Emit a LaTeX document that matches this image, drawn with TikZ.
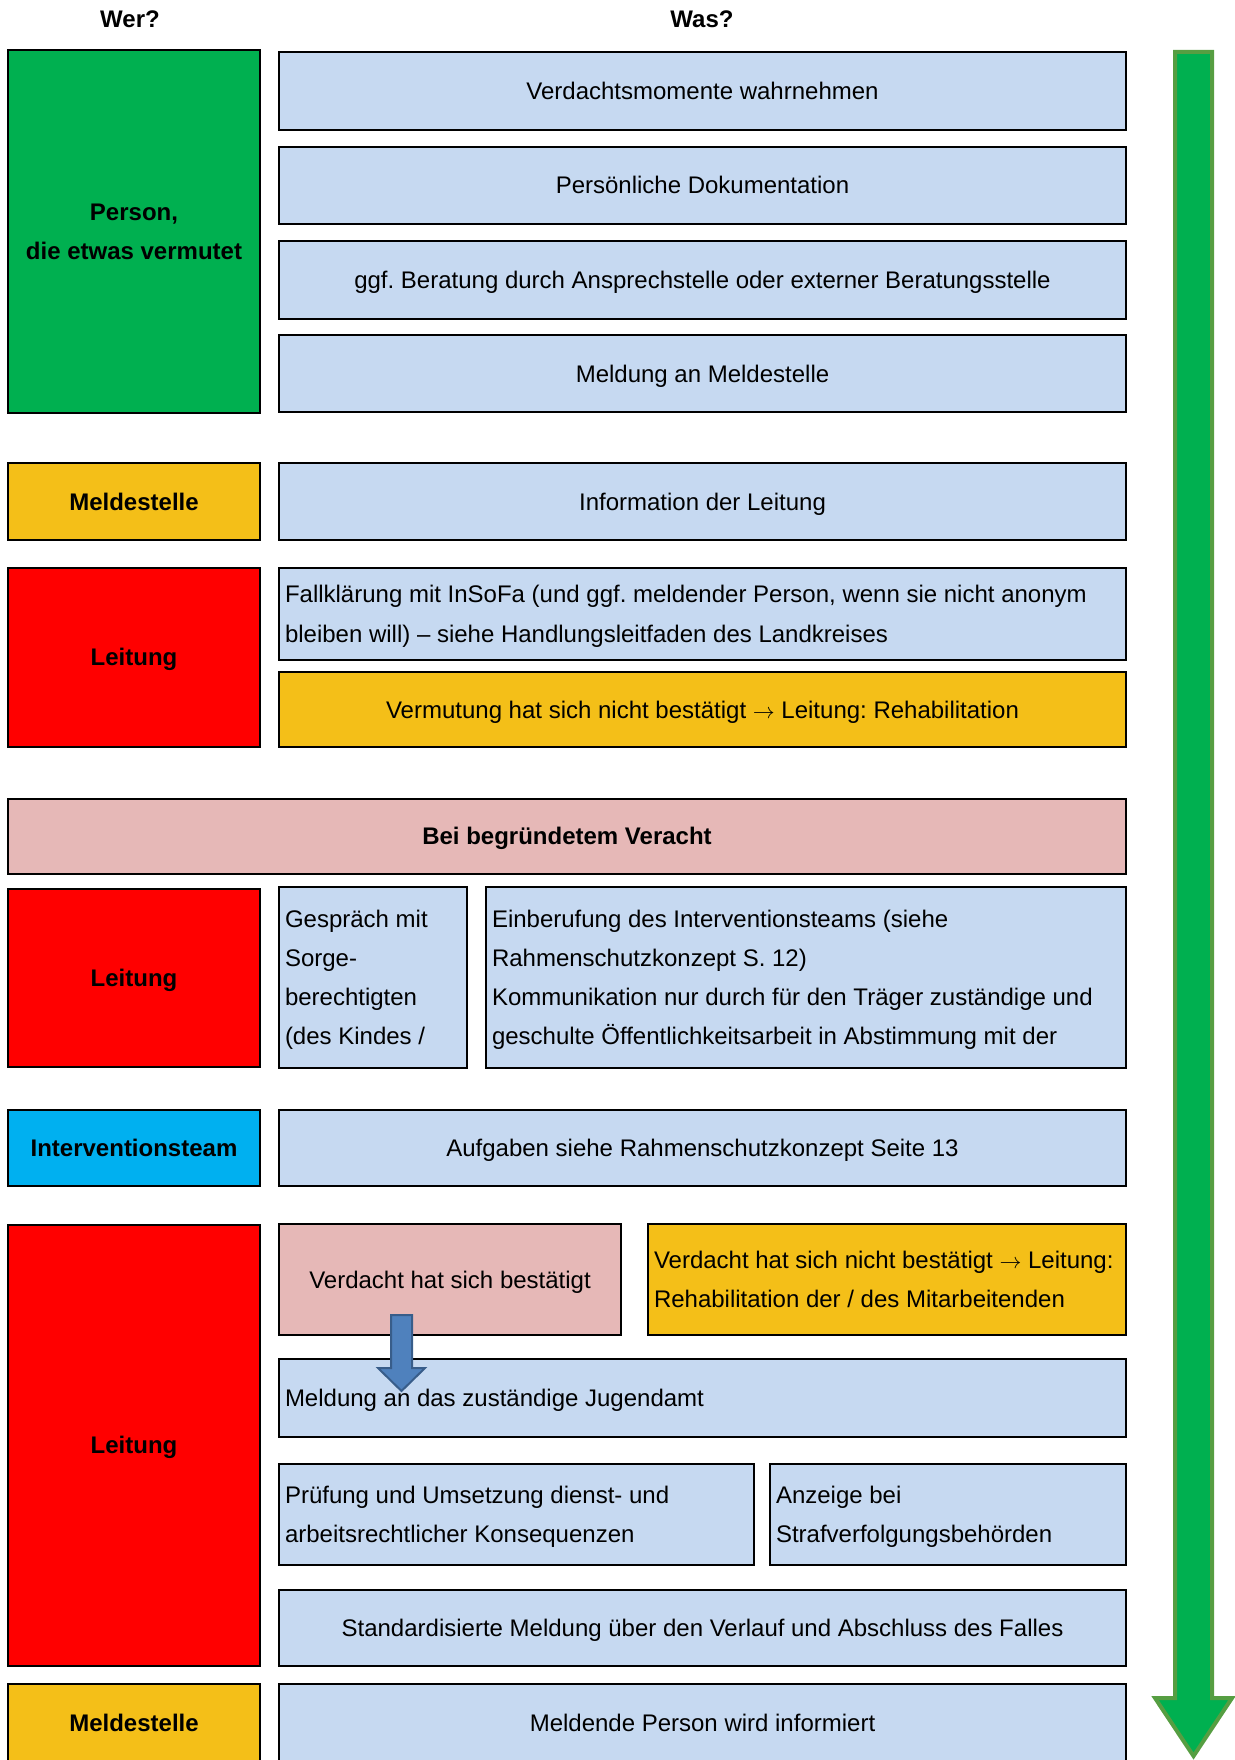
\documentclass[tikz,border=0pt]{standalone}
\usepackage{fontspec}
\setmainfont{Liberation Sans}
\frenchspacing
\definecolor{cblue}{RGB}{198,217,241}
\definecolor{cgreen}{RGB}{0,176,80}
\definecolor{cgreenline}{RGB}{86,158,66}
\definecolor{corange}{RGB}{244,191,24}
\definecolor{cred}{RGB}{255,0,0}
\definecolor{cpink}{RGB}{230,184,183}
\definecolor{ccyan}{RGB}{0,176,240}
\definecolor{carrow}{RGB}{79,129,189}
\definecolor{carrowline}{RGB}{56,93,138}
\newcommand\arr{{\fontsize{11}{12}\selectfont$\rightarrow$}}
\newcommand\cbox[7]{%
  \node[basebox,#6,minimum width={(#4-#2)*0.5pt},minimum height={(#5-#3)*0.5pt}]
    (#1) at ({(#2+#4)/2},{(#3+#5)/2}) {#7};}
\newcommand\lbox[7]{%
  \node[basebox,#6,align=flush left,inner xsep=3pt,text width={(#4-#2)*0.5pt-6pt},minimum height={(#5-#3)*0.5pt}]
    (#1) at ({(#2+#4)/2},{(#3+#5)/2}) {#7};}
\begin{document}
\begin{tikzpicture}[x=0.5pt,y=-0.5pt,
  basebox/.style={draw=black,line width=1.3pt,rectangle,inner sep=0pt,outer sep=0pt,
    font=\fontsize{12}{19.6}\selectfont,align=center,
    execute at begin node={\rule{0pt}{11pt}},
    execute at end node={\rule[-2.5pt]{0pt}{2.5pt}}},
  act/.style={fill=cblue},
  who/.style={font=\fontsize{12}{19.6}\selectfont\bfseries},
  head/.style={font=\fontsize{12}{14}\selectfont\bfseries}]
\useasboundingbox (0,0) rectangle (1235,1760);
\clip (0,0) rectangle (1235,1760);

\node[head] (wer) at (130,19) {Wer?};
\node[head] (was) at (702,19) {Was?};

% block 1
\cbox{p1}{8}{50}{260}{413}{fill=cgreen,who,text width=126pt,align=flush center}{Person,\\die etwas vermutet}
\cbox{a1}{279}{52}{1126}{130}{act}{Verdachtsmomente wahrnehmen}
\cbox{a2}{279}{147}{1126}{224}{act}{Persönliche Dokumentation}
\cbox{a3}{279}{241}{1126}{319}{act}{ggf. Beratung durch Ansprechstelle oder externer Beratungsstelle}
\cbox{a4}{279}{335}{1126}{412}{act}{Meldung an Meldestelle}

% block 2
\cbox{m1}{8}{463}{260}{540}{fill=corange,who}{Meldestelle}
\cbox{a5}{279}{463}{1126}{540}{act}{Information der Leitung}

% block 3
\cbox{l1}{8}{568}{260}{747}{fill=cred,who}{Leitung}
\lbox{a6}{279}{568}{1126}{660}{act}{\mbox{Fallklärung mit InSoFa (und ggf. meldender Person, wenn sie nicht anonym}\\bleiben will) – siehe Handlungsleitfaden des Landkreises}
\cbox{a7}{279}{672}{1126}{747}{fill=corange}{Vermutung hat sich nicht bestätigt \arr{} Leitung: Rehabilitation}

% block 4
\cbox{v}{8}{799}{1126}{874}{fill=cpink,who}{Bei begründetem Veracht}
\cbox{l2}{8}{889}{260}{1067}{fill=cred,who}{Leitung}
\lbox{a8}{279}{887}{467}{1068}{act}{Gespräch mit\\Sorge-\\berechtigten\\(des Kindes /}
\lbox{a9}{486}{887}{1126}{1068}{act}{Einberufung des Interventionsteams (siehe\\Rahmenschutzkonzept S. 12)\\\mbox{Kommunikation nur durch für den Träger zuständige und}\\\mbox{geschulte Öffentlichkeitsarbeit in Abstimmung mit der}}

% block 5
\cbox{i}{8}{1110}{260}{1186}{fill=ccyan,who}{Interventionsteam}
\cbox{a10}{279}{1110}{1126}{1186}{act}{Aufgaben siehe Rahmenschutzkonzept Seite 13}

% block 6
\cbox{l3}{8}{1225}{260}{1666}{fill=cred,who}{Leitung}
\cbox{a11}{279}{1224}{621}{1335}{fill=cpink}{Verdacht hat sich bestätigt}
\lbox{a12}{648}{1224}{1126}{1335}{fill=corange}{\mbox{Verdacht hat sich nicht bestätigt \arr{} Leitung:}\\Rehabilitation der / des Mitarbeitenden}
\lbox{a13}{279}{1359}{1126}{1437}{act}{Meldung an das zuständige Jugendamt}
\lbox{a14}{279}{1464}{754}{1565}{act}{Prüfung und Umsetzung dienst- und\\arbeitsrechtlicher Konsequenzen}
\lbox{a15}{770}{1464}{1126}{1565}{act}{Anzeige bei\\Strafverfolgungsbehörden}
\cbox{a16}{279}{1590}{1126}{1666}{act}{Standardisierte Meldung über den Verlauf und Abschluss des Falles}

% block 7
\cbox{m2}{8}{1684}{260}{1762}{fill=corange,who}{Meldestelle}
\cbox{a17}{279}{1684}{1126}{1762}{act}{Meldende Person wird informiert}

% blue block arrow from a11 to a13
\draw[fill=carrow,draw=carrowline,line width=1pt,line join=miter]
  (391,1315) -- (412,1315) -- (412,1368) -- (425,1368) -- (401.5,1391)
  -- (378,1368) -- (391,1368) -- cycle;

% big green time arrow
\draw[fill=cgreen,draw=cgreenline,line width=2pt,line join=miter]
  (1175,52) -- (1212,52) -- (1212,1698) -- (1232,1698) -- (1193.5,1756)
  -- (1155,1698) -- (1175,1698) -- cycle;
\end{tikzpicture}
\end{document}
